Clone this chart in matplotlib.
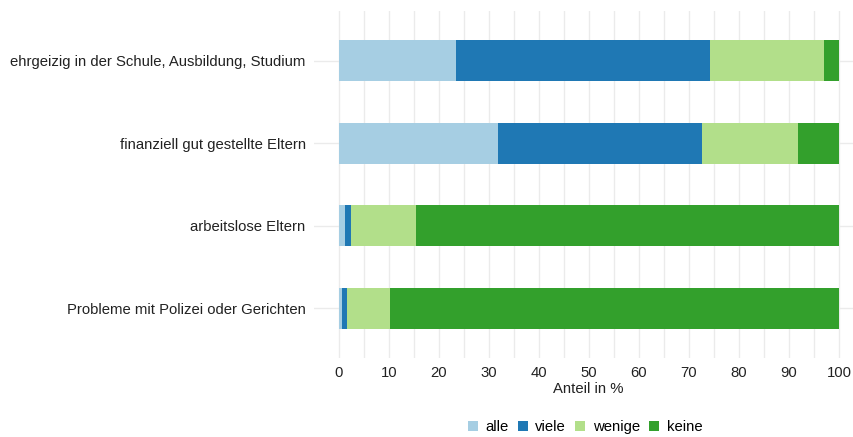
import matplotlib.pyplot as plt
import numpy as np
from matplotlib.patches import Patch

plt.rcParams['font.family'] = ['Liberation Sans', 'DejaVu Sans']

# Kategorien (von oben nach unten)
kategorien = [
    'ehrgeizig in der Schule, Ausbildung, Studium',
    'finanziell gut gestellte Eltern',
    'arbeitslose Eltern',
    'Probleme mit Polizei oder Gerichten',
]
antworten = ['alle', 'viele', 'wenige', 'keine']
farben = ['#A6CEE3', '#1F78B4', '#B2DF8A', '#33A02C']

# Anteile in % je Antwort
alle = [23.4, 31.8, 1.2, 0.6]
viele = [50.8, 40.8, 1.2, 1.0]
wenige = [22.8, 19.2, 13.0, 8.6]
keine = [3.0, 8.2, 84.6, 89.8]

werte = np.array([alle, viele, wenige, keine])

fig = plt.figure(figsize=(8.54, 4.37), dpi=100)
# Panel: x von 314 bis 864 px (rechts abgeschnitten), y von 11 bis 358 px
ax = fig.add_axes([314 / 854, 1 - 358 / 437, 550 / 854, 347 / 437])

y = np.arange(len(kategorien))[::-1] + 1
links = np.zeros(len(kategorien))
for i, name in enumerate(antworten):
    ax.barh(y, werte[i], left=links, height=0.5, color=farben[i], zorder=3, linewidth=0)
    links += werte[i]

ax.set_xlim(-5, 105)
ax.set_ylim(0.4, 4.6)
ax.set_xticks(np.arange(0, 101, 10))
ax.set_xticks(np.arange(5, 101, 10), minor=True)
ax.set_yticks(y)
ax.set_yticklabels(kategorien)
ax.tick_params(axis='both', length=0, labelsize=10.7, colors='#222222', which='both')
ax.tick_params(axis='x', pad=6)
ax.tick_params(axis='y', pad=6)

ax.grid(True, which='major', color='#EBEBEB', linewidth=1.0, zorder=0)
ax.grid(True, which='minor', axis='x', color='#EBEBEB', linewidth=1.0, zorder=0)
for s in ax.spines.values():
    s.set_visible(False)

fig.text(588 / 854, 1 - 389 / 437, 'Anteil in %', ha='center', va='center', fontsize=10.7, color='#222222')

handles = [Patch(facecolor=f, edgecolor='none', label=a) for a, f in zip(antworten, farben)]
fig.legend(handles=handles, loc='center', bbox_to_anchor=(585 / 854, 1 - 427 / 437), ncol=4,
           frameon=False, fontsize=10.7, handlelength=0.7, handleheight=0.7,
           handletextpad=0.5, columnspacing=0.6)

fig.savefig('out.png', dpi=100)
